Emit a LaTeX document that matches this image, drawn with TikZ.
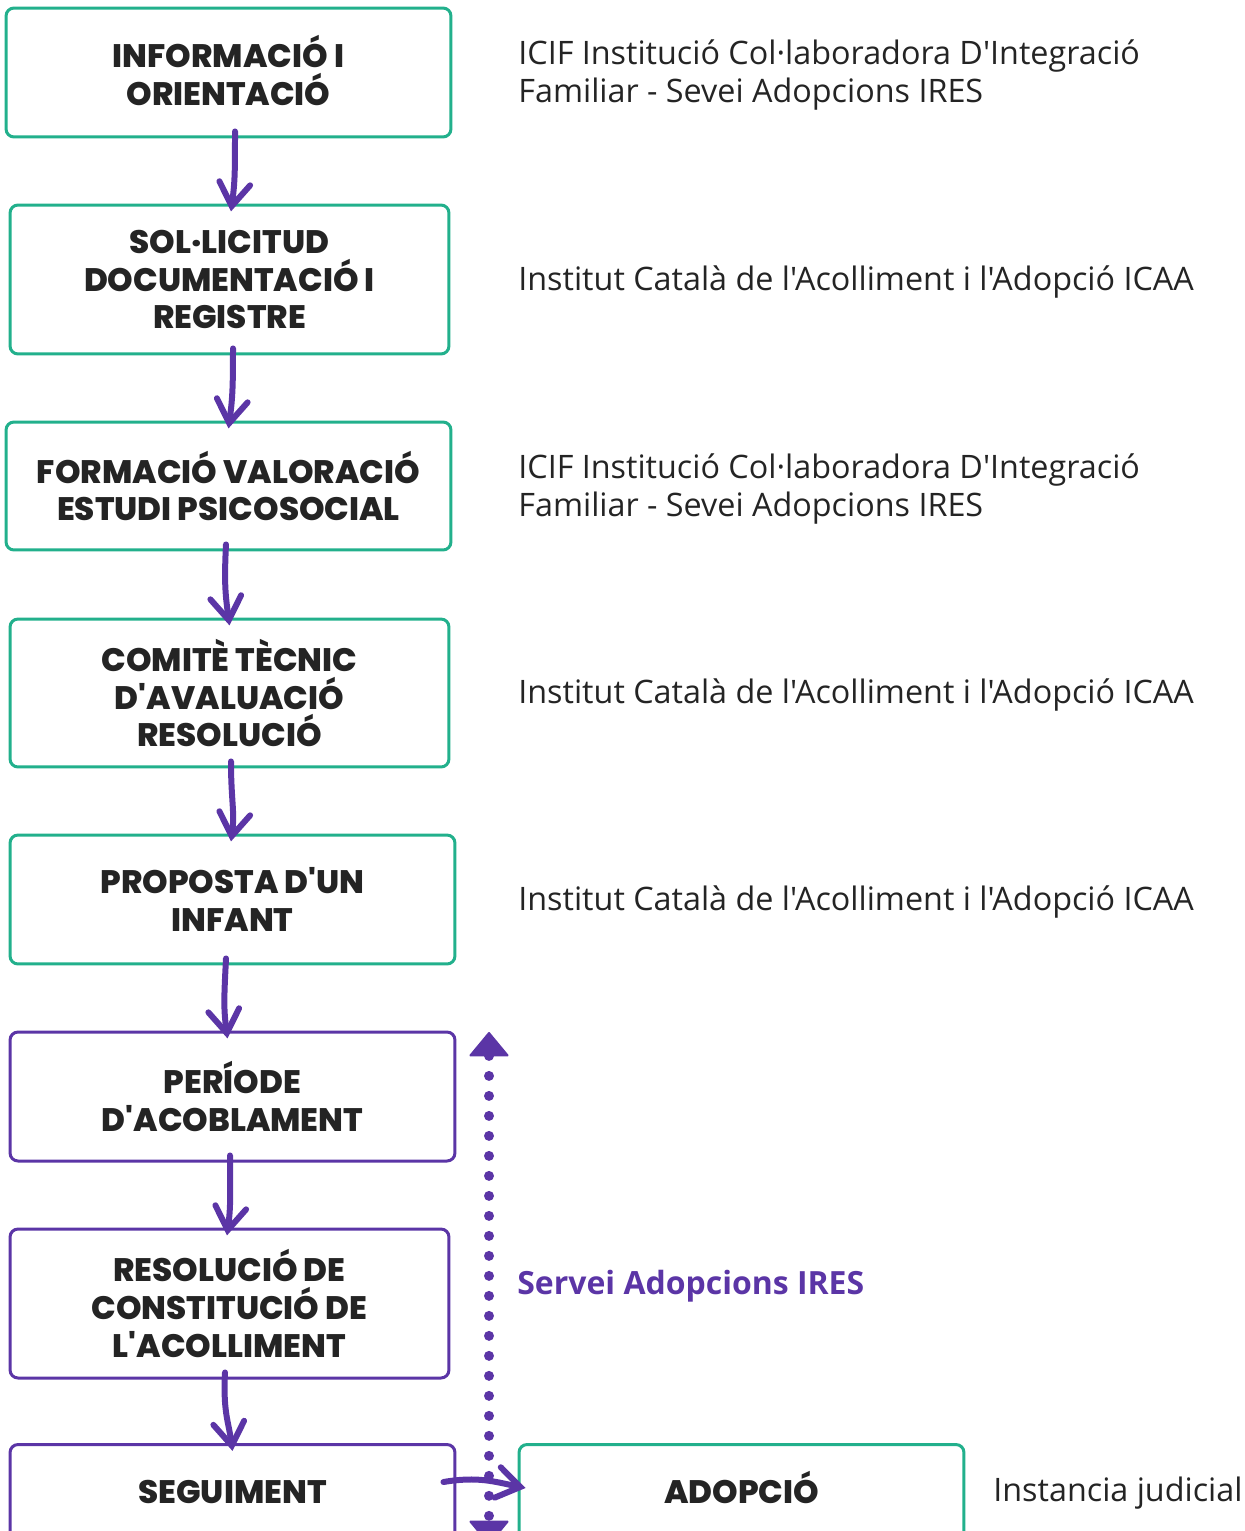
\documentclass[tikz,border=0pt]{standalone}
\usepackage{fontspec}
\setmainfont{Open Sans}[Ligatures=TeXOff]
\newfontfamily\boxfont{Poppins}[Ligatures=TeXOff, BoldFont={* ExtraBold}]
\usetikzlibrary{arrows.meta}
\definecolor{stepgreen}{HTML}{22B08C}
\definecolor{steppurple}{HTML}{5B35A6}
\definecolor{stepink}{HTML}{242424}
\begin{document}
\begin{tikzpicture}[x=0.02cm,y=-0.02cm]
  \tikzset{
    stepbox/.style={draw=stepgreen, line width=0.06cm, rounded corners=0.16cm,
      minimum width=8.9cm, inner sep=0pt, align=center, text=stepink,
      font=\boxfont\bfseries\fontsize{18.5}{21.6}\selectfont},
    purplebox/.style={stepbox, draw=steppurple},
    who/.style={anchor=west, align=left, inner sep=0pt, text=stepink,
      font=\fontsize{18.4}{21.6}\selectfont},
    flow/.style={draw=steppurple, line width=0.12cm, line cap=round,
      -{Straight Barb[length=0.46cm, width=0.62cm, line cap=round]}},
    dots/.style={draw=steppurple, line width=0.2cm, line cap=round,
      dash pattern=on 0pt off 0.4cm,
      {Triangle[round, length=0.5cm, width=0.82cm, line width=0.04cm]}-{Triangle[round, length=0.5cm, width=0.82cm, line width=0.04cm]}}
  }
  \useasboundingbox (0,0) rectangle (1244,1531);
  \clip (0,0) rectangle (1244,1531);

  % steps
  \node[stepbox, minimum width=8.9cm, minimum height=2.58cm] (info) at (228.5,72.5) {\raisebox{0.08cm}{INFORMACIÓ I}\\\raisebox{0.08cm}{ORIENTACIÓ}};
  \node[stepbox, minimum width=8.78cm, minimum height=2.98cm] (sol) at (229.5,279.5) {SOL·LICITUD\\DOCUMENTACIÓ I\\REGISTRE};
  \node[stepbox, minimum width=8.9cm, minimum height=2.56cm] (form) at (228.5,486) {FORMACIÓ VALORACIÓ\\ESTUDI PSICOSOCIAL};
  \node[stepbox, minimum width=8.78cm, minimum height=2.96cm] (comite) at (229.5,693) {COMITÈ TÈCNIC\\D'AVALUACIÓ\\RESOLUCIÓ};
  \node[stepbox, minimum width=8.9cm, minimum height=2.58cm] (prop) at (232.5,899.5) {PROPOSTA D'UN\\INFANT};
  \node[purplebox, minimum width=8.9cm, minimum height=2.58cm] (acob) at (232.5,1096.5) {PERÍODE\\D'ACOBLAMENT};
  \node[purplebox, minimum width=8.78cm, minimum height=2.98cm] (acoll) at (229.5,1303.5) {RESOLUCIÓ DE\\CONSTITUCIÓ DE\\L'ACOLLIMENT};
  \node[purplebox, minimum width=8.9cm, minimum height=1.9cm] (seg) at (232.5,1492) {SEGUIMENT};
  \node[stepbox, minimum width=8.9cm, minimum height=1.9cm] (adop) at (741.5,1492) {\raisebox{0pt}[\fontcharht\font`A][0pt]{ADOPCIÓ}};

  % who does it
  \node[who] (w1) at (518,75) {ICIF Institució Col·laboradora D'Integració\\Familiar - Sevei Adopcions IRES};
  \node[who] (w2) at (518,282) {Institut Català de l'Acolliment i l'Adopció ICAA};
  \node[who] (w3) at (518,489) {ICIF Institució Col·laboradora D'Integració\\Familiar - Sevei Adopcions IRES};
  \node[who] (w4) at (518,695) {Institut Català de l'Acolliment i l'Adopció ICAA};
  \node[who] (w5) at (518,902) {Institut Català de l'Acolliment i l'Adopció ICAA};
  \node[who, text=steppurple, font=\bfseries\fontsize{18.2}{21.6}\selectfont] (ires) at (517,1286) {Servei Adopcions IRES};
  \node[who] (w6) at (993,1493) {Instancia judicial};

  % dotted span
  \coordinate (dtop) at (489,1032);
  \coordinate (dbot) at (489,1545);
  \draw[dots] (dtop) -- (dbot);

  % arrows
  \draw[flow] ([xshift=0.13cm,yshift=4pt]info.south) .. controls +(0,40) and +(4,-30) .. ([xshift=0.03cm,yshift=-4.5pt]sol.north);
  \draw[flow] ([xshift=0.07cm,yshift=4pt]sol.south) .. controls +(0,40) and +(4,-30) .. ([xshift=0cm,yshift=-4.5pt]form.north);
  \draw[flow] ([xshift=-0.05cm,yshift=4pt]form.south) .. controls +(-2,40) and +(-4,-30) .. ([xshift=0cm,yshift=-4.5pt]comite.north);
  \draw[flow] ([xshift=0.03cm,yshift=4pt]comite.south) .. controls +(0,40) and +(4,-30) .. ([xshift=-0.03cm,yshift=-4.5pt]prop.north);
  \draw[flow] ([xshift=-0.13cm,yshift=4pt]prop.south) .. controls +(-2,40) and +(-4,-30) .. ([xshift=-0.1cm,yshift=-4.5pt]acob.north);
  \draw[flow] ([xshift=-0.05cm,yshift=4pt]acob.south) .. controls +(0,40) and +(4,-30) .. ([xshift=-0.05cm,yshift=-4.5pt]acoll.north);
  \draw[flow] ([xshift=-0.09cm,yshift=4pt]acoll.south) .. controls +(-2,40) and +(-4,-30) .. ([xshift=0cm,yshift=-4.5pt]seg.north);
  \draw[flow] ([xshift=-0.26cm,yshift=0.2cm]seg.east) .. controls +(35,-6) and +(-30,-6) .. ([xshift=0.16cm,yshift=0.08cm]adop.west);
\end{tikzpicture}
\end{document}
